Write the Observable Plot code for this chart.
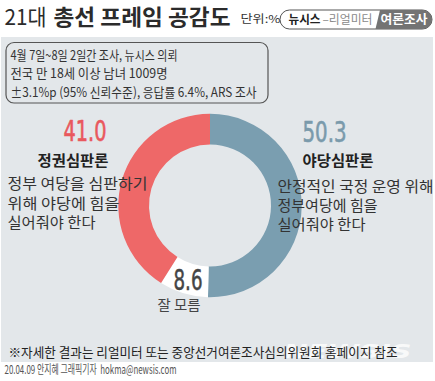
<!DOCTYPE html>
<html>
<head>
<meta charset="utf-8">
<script src="https://cdn.jsdelivr.net/npm/d3@7"></script>
<script src="https://cdn.jsdelivr.net/npm/@observablehq/plot@0.6"></script>
<style>
  html, body { margin: 0; padding: 0; background: #ffffff; }
  #chart svg { display: block; }
</style>
</head>
<body>
<div id="chart"></div>
<script>
// ---------- data ----------
const categories = ["야당심판론", "잘 모름", "정권심판론"];
const values = [50.3, 8.6, 41.0];
const valueLabels = ["50.3", "8.6", "41.0"];
const leftDescription = ["정부 여당을 심판하기", "위해 야당에 힘을", "실어줘야 한다"];
const rightDescription = ["안정적인 국정 운영 위해", "정부여당에 힘을", "실어줘야 한다"];
const titleRegular = "21대";
const titleBold = "총선 프레임 공감도";
const unitLabel = "단위:%";
const badgeParts = ["뉴시스", "–리얼미터", "여론조사"];
const surveyNotes = [
  "4월 7일~8일 2일간 조사, 뉴시스 의뢰",
  "전국 만 18세 이상 남녀 1009명",
  "±3.1%p (95% 신뢰수준), 응답률 6.4%, ARS 조사"
];
const footNote = "※자세한 결과는 리얼미터 또는 중앙선거여론조사심의위원회 홈페이지 참조";
const credit = "20.04.09 안지혜 그래픽기자  hokma@newsis.com";
const watermark = "NEWSIS";

// ---------- layout & style ----------
const W = 435, H = 381;
const KR = "'Noto Sans CJK KR', 'Noto Sans', sans-serif";
const NUM = "'Liberation Sans Narrow', 'DejaVu Sans Condensed', 'Roboto', sans-serif";
const colors = { blue: "#7a9eb0", red: "#ee6868", unknown: "#ffffff", panel: "#e3e7ea",
  redText: "#e9585d", blueText: "#7a9aab", ink: "#2b2b2b", soft: "#444" };
const sliceColors = [colors.blue, colors.unknown, colors.red];
const donut = { cx: 210, cy: 205.5, outer: 91.7, inner: 61 };

// text target widths (to mimic the condensed original face)
const fit = new Map([
  [titleRegular, 42], [titleBold, 177], [unitLabel, 40],
  [badgeParts[0], 32], [badgeParts[1], 50], [badgeParts[2], 47],
  [surveyNotes[0], 167], [surveyNotes[1], 157], [surveyNotes[2], 246],
  [valueLabels[2], 43], [valueLabels[0], 44], [valueLabels[1], 29],
  [categories[2], 71], [categories[0], 71], [categories[1], 43],
  [leftDescription[0], 140], [leftDescription[1], 112], [leftDescription[2], 96],
  [rightDescription[0], 156], [rightDescription[1], 100], [rightDescription[2], 88],
  [footNote, 389], [credit, 172], [watermark, 128]
]);

const sliceData = categories.map((c, i) => ({ category: c, value: values[i], color: sliceColors[i] }));

// custom mark: donut slices, positioned via Plot scales
function donutMark(index, scales) {
  const sx = typeof scales.x === "function" ? scales.x : (v) => v;
  const sy = typeof scales.y === "function" ? scales.y : (v) => v;
  const g = d3.create("svg:g");
  const pie = d3.pie().sort(null).value(d => d.value);
  const arc = d3.arc().innerRadius(donut.inner).outerRadius(donut.outer);
  g.append("g")
    .attr("transform", `translate(${sx(donut.cx)},${sy(donut.cy)})`)
    .selectAll("path")
    .data(pie(sliceData))
    .join("path")
    .attr("d", arc)
    .attr("fill", d => d.data.color);
  return g.node();
}

function badgeMark(index, scales) {
  const sx = typeof scales.x === "function" ? scales.x : (v) => v;
  const sy = typeof scales.y === "function" ? scales.y : (v) => v;
  const g = d3.create("svg:g");
  const y1 = sy(10), y2 = sy(29), r = (y2 - y1) / 2;
  const right = sx(432);
  g.append("path")
    .attr("d", `M${sx(380)},${y1} L${right - r},${y1} A${r},${r} 0 0 1 ${right - r},${y2} L${sx(375.5)},${y2} Z`)
    .attr("fill", "#737373");
  return g.node();
}

const txt = (text, x, y, o = {}) =>
  Plot.text([text], { x: () => x, y: () => y, text: d => d, fontFamily: KR, fill: colors.ink, ...o });

const chart = Plot.plot({
  width: W, height: H,
  margin: 0,
  x: { domain: [0, W], range: [0, W], axis: null },
  y: { domain: [0, H], range: [0, H], axis: null },
  style: { background: "#ffffff", overflow: "visible" },
  marks: [
    // panel
    Plot.rect([0], { x1: 1, x2: 433, y1: 37, y2: 362, fill: colors.panel }),
    // title
    txt(titleRegular, 4, 17.5, { fontSize: 22, textAnchor: "start", fontWeight: 400 }),
    txt(titleBold, 53, 17.5, { fontSize: 22, textAnchor: "start", fontWeight: 700 }),
    txt(unitLabel, 240, 18.5, { fontSize: 11, textAnchor: "start", fill: "#333" }),
    // badge
    Plot.rect([0], { x1: 280, x2: 432, y1: 10, y2: 29, rx: 9.5, fill: "#ffffff", stroke: "#555", strokeWidth: 1 }),
    badgeMark,
    txt(badgeParts[0], 288, 19.5, { fontSize: 12, textAnchor: "start", fontWeight: 700, fill: "#222" }),
    txt(badgeParts[1], 322, 19.5, { fontSize: 12, textAnchor: "start", fill: "#8a8a8a" }),
    txt(badgeParts[2], 380, 19.5, { fontSize: 12, textAnchor: "start", fontWeight: 700, fill: "#ffffff" }),
    // survey info box
    Plot.rect([0], { x1: 6, x2: 268, y1: 42.5, y2: 103, rx: 8, fill: colors.panel, stroke: "#555", strokeWidth: 1.2 }),
    ...surveyNotes.map((s, i) => txt(s, 10, [55.5, 73.5, 92][i], { fontSize: 13, textAnchor: "start", fill: "#333" })),
    // donut
    donutMark,
    // left labels
    Plot.text([valueLabels[2]], { x: () => 106, y: () => 132, text: d => d, fontFamily: NUM, fontSize: 28, textAnchor: "end", fill: colors.redText, stroke: colors.redText, strokeWidth: 0.6 }),
    txt(categories[2], 108, 160.5, { fontSize: 15, textAnchor: "end", fontWeight: 700, fill: "#222" }),
    ...leftDescription.map((s, i) => txt(s, 7, [184, 204, 223][i], { fontSize: 15, textAnchor: "start", fill: "#333" })),
    // right labels
    Plot.text([valueLabels[0]], { x: () => 302, y: () => 133, text: d => d, fontFamily: NUM, fontSize: 28, textAnchor: "start", fill: colors.blueText, stroke: colors.blueText, strokeWidth: 0.6 }),
    txt(categories[0], 302, 160.5, { fontSize: 15, textAnchor: "start", fontWeight: 700, fill: "#222" }),
    ...rightDescription.map((s, i) => txt(s, 277, [187, 206, 225][i], { fontSize: 15, textAnchor: "start", fill: "#333" })),
    // unknown
    Plot.text([valueLabels[1]], { x: () => 187.5, y: () => 280, text: d => d, fontFamily: NUM, fontSize: 29, textAnchor: "middle", fill: colors.soft, stroke: colors.soft, strokeWidth: 0.5 }),
    txt(categories[1], 178.5, 305, { fontSize: 14, textAnchor: "middle", fill: colors.soft }),
    // watermark + footer
    Plot.text([watermark], { x: () => 283, y: () => 351, text: d => d, fontFamily: "'DejaVu Sans', sans-serif", fontSize: 19, fontWeight: 700, fontStyle: "italic", textAnchor: "start", fill: "#ffffff", fillOpacity: 0.75 }),
    txt(footNote, 8, 352.5, { fontSize: 13, textAnchor: "start", fill: "#222" }),
    txt(credit, 4, 370, { fontSize: 12, textAnchor: "start", fill: "#555" })
  ]
});

// fit text widths to the original condensed lettering
chart.querySelectorAll("text").forEach(t => {
  const w = fit.get(t.textContent);
  if (w) {
    t.setAttribute("textLength", w);
    t.setAttribute("lengthAdjust", "spacingAndGlyphs");
  }
});

document.getElementById("chart").appendChild(chart);
</script>
</body>
</html>
